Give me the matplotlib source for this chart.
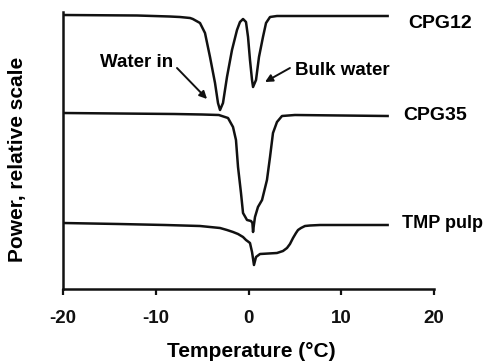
import matplotlib
matplotlib.use("Agg")
import matplotlib.pyplot as plt

plt.rcParams['font.family'] = ['Liberation Sans', 'DejaVu Sans']
plt.rcParams['font.weight'] = 'bold'
plt.rcParams['axes.unicode_minus'] = False

# DSC melting traces, temperature in °C and power in relative units (offset per sample)
t_cpg12 = [-20, -12, -8.5, -7.4, -6.3, -6.0, -5.23, -4.69, -4.15, -3.61, -3.29, -3.07,
           -2.75, -2.32, -1.78, -1.24, -0.92, -0.59, -0.27, -0.05, 0.16, 0.38, 0.49,
           0.81, 1.13, 1.56, 1.89, 2.32, 3.07, 15]
p_cpg12 = [27.4, 27.35, 27.25, 27.2, 27.1, 27.0, 26.6, 25.6, 23.2, 20.6, 18.6, 17.9,
           18.6, 21.2, 23.9, 25.9, 26.7, 27.0, 26.7, 25.2, 22.9, 20.9, 20.2,
           20.9, 23.2, 25.2, 26.6, 27.2, 27.3, 27.3]

t_cpg35 = [-20, -14, -8, -5, -3.2, -2.21, -1.67, -1.35, -1.13, -0.81, -0.59, -0.16,
           0.27, 0.42, 0.49, 0.58, 0.70, 1.02, 1.46, 1.99, 2.32, 2.64, 3.07, 3.61,
           5.0, 15]
p_cpg35 = [17.6, 17.55, 17.5, 17.45, 17.4, 17.1, 16.2, 14.9, 12.2, 9.6, 7.6, 6.9,
           6.8, 6.6, 5.7, 6.4, 7.2, 8.2, 8.9, 10.9, 13.2, 15.6, 16.7, 17.3,
           17.4, 17.3]

t_tmp = [-20, -14, -9, -5.23, -4.15, -3.07, -2.32, -1.67, -1.13, -0.59, -0.27, -0.05,
         0.16, 0.38, 0.59, 0.81, 1.24, 3.07, 3.72, 4.15, 4.47, 4.80, 5.12, 5.34,
         5.66, 6.09, 6.63, 7.71, 15]
p_tmp = [6.6, 6.5, 6.4, 6.3, 6.2, 6.1, 5.9, 5.7, 5.5, 5.2, 4.9, 4.75,
         4.6, 3.7, 2.4, 3.2, 3.5, 3.6, 3.8, 4.1, 4.5, 5.1, 5.6, 5.9,
         6.1, 6.3, 6.35, 6.4, 6.4]

names = ['CPG12', 'CPG35', 'TMP pulp']
name_pos = [(17.2, 26.1), (16.66, 16.9), (16.6, 6.1)]
name_size = [14, 14, 13]

fig = plt.figure(figsize=(4.91, 3.62), dpi=100)
ax = fig.add_axes([63 / 491, 73 / 362, 371 / 491, 277 / 362])

lc = '#111111'
for t, p in [(t_cpg12, p_cpg12), (t_cpg35, p_cpg35), (t_tmp, p_tmp)]:
    ax.plot(t, p, color=lc, lw=1.8, solid_joinstyle='round')

for name, (x, y), fs in zip(names, name_pos, name_size):
    ax.text(x, y, name, fontsize=fs, ha='left', va='baseline', clip_on=False)

# peak annotations
ax.text(-12.08, 22.2, 'Water in', fontsize=13.5, ha='center', va='baseline')
ax.annotate('', xy=(-4.47, 19.0), xytext=(-7.71, 22.1),
            arrowprops=dict(arrowstyle='-|>', color=lc, lw=1.4,
                            mutation_scale=11, shrinkA=0, shrinkB=0))
ax.text(5.01, 21.4, 'Bulk water', fontsize=13.5, ha='left', va='baseline')
ax.annotate('', xy=(1.78, 20.7), xytext=(4.47, 22.1),
            arrowprops=dict(arrowstyle='-|>', color=lc, lw=1.4,
                            mutation_scale=11, shrinkA=0, shrinkB=0))

ax.set_xlim(-20, 20)
ax.set_ylim(0, 27.7)
ax.set_xticks([-20, -10, 0, 10, 20])
ax.set_yticks([])
ax.tick_params(axis='x', direction='out', length=4, width=1.6, pad=11,
               labelsize=13.5, colors=lc)
ax.spines[['top', 'right']].set_visible(False)
for s in ['left', 'bottom']:
    ax.spines[s].set_linewidth(1.8)
    ax.spines[s].set_color(lc)

fig.text(251.5 / 491, 1 - 357 / 362, 'Temperature (°C)', fontsize=15,
         ha='center', va='baseline')
fig.text(17.5 / 491, 1 - 159 / 362, 'Power, relative scale', fontsize=15,
         ha='center', va='center', rotation=90)

fig.savefig('out.png', dpi=100)
